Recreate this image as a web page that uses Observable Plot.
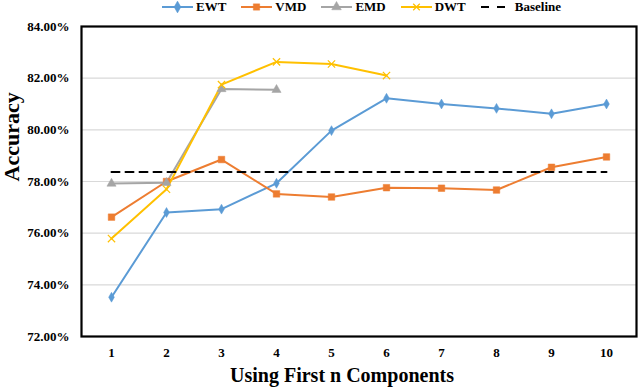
<!DOCTYPE html>
<html>
<head>
<meta charset="utf-8">
<script src="https://cdn.jsdelivr.net/npm/d3@7"></script>
<script src="https://cdn.jsdelivr.net/npm/@observablehq/plot@0.6"></script>
<style>
  html, body { margin: 0; padding: 0; background: #fff; }
  #wrap { position: relative; width: 640px; height: 388px; font-family: "Liberation Serif", "Times New Roman", serif; }
  #chart svg, #chart svg text { font-family: "Liberation Serif", "Times New Roman", serif !important; }
  #legend { position: absolute; top: -1px; left: 162px; display: flex; align-items: center; font-weight: bold; font-size: 13px; color: #000; z-index: 2; font-family: "Liberation Serif", "Times New Roman", serif; }
  .item { display: flex; align-items: center; margin-right: 15px; }
  .item svg { margin-right: 3px; }
</style>
</head>
<body>
<div id="wrap">
  <div id="legend"></div>
  <div id="chart"></div>
</div>
<script>
const components = [1, 2, 3, 4, 5, 6, 7, 8, 9, 10];
const seriesNames = ["EWT", "VMD", "EMD", "DWT"];
const seriesColors = ["#5B9BD5", "#ED7D31", "#A5A5A5", "#FFC000"];
const seriesSymbols = ["diamond", "square", "triangle", "times"];
const ewt = [73.52, 76.80, 76.93, 77.93, 79.97, 81.22, 81.00, 80.83, 80.62, 81.00];
const vmd = [76.62, 78.00, 78.85, 77.52, 77.40, 77.76, 77.74, 77.67, 78.55, 78.95];
const emd = [77.92, 77.95, 81.58, 81.55, null, null, null, null, null, null];
const dwt = [75.79, 77.70, 81.75, 82.63, 82.55, 82.10, null, null, null, null];
const baseline = 78.37;
const baselineLabel = "Baseline";
const yTicks = [72, 74, 76, 78, 80, 82, 84];
const xTitle = "Using First n Components";
const yTitle = "Accuracy";

const seriesValues = [ewt, vmd, emd, dwt];
const data = [];
seriesNames.forEach((name, s) => {
  seriesValues[s].forEach((v, i) => {
    if (v != null) data.push({n: components[i], acc: v, series: name});
  });
});
const baselineData = [
  {n: components[0], acc: baseline},
  {n: components[components.length - 1], acc: baseline}
];

const font = "Liberation Serif";
const symbolMarks = seriesNames.map((name, s) =>
  Plot.dot(data.filter(d => d.series === name), {
    x: "n", y: "acc",
    symbol: () => seriesSymbols[s],
    r: seriesSymbols[s] === "square" ? 3.7 : seriesSymbols[s] === "diamond" ? 3.0 : 3.4,
    fill: seriesSymbols[s] === "times" ? "none" : seriesColors[s],
    stroke: seriesColors[s],
    strokeWidth: seriesSymbols[s] === "times" ? 1.2 : 0.5
  })
);

const chart = Plot.plot({
  width: 640,
  height: 388,
  marginTop: 26,
  marginBottom: 52,
  marginLeft: 81,
  marginRight: 4,
  style: {fontFamily: "'Liberation Serif', serif", fontSize: "13px", fontWeight: "bold", color: "#000", background: "#fff"},
  x: {type: "point", domain: components, padding: 0.5},
  y: {domain: [72, 84]},
  symbol: {domain: seriesSymbols, range: seriesSymbols},
  marks: [
    Plot.gridY(yTicks.slice(1, -1), {stroke: "#D9D9D9", strokeOpacity: 1, strokeWidth: 1.2}),
    Plot.axisY(yTicks, {tickSize: 0, tickPadding: 12, tickFormat: d => d.toFixed(2) + "%", label: null, fontSize: 13, fontWeight: "bold", fontFamily: font}),
    Plot.axisX(components, {tickSize: 0, tickPadding: 11, label: null, fontSize: 13, fontWeight: "bold", fontFamily: font}),
    Plot.text([yTitle], {frameAnchor: "left", dx: -70, rotate: -90, fontSize: 22, fontWeight: "bold", fill: "#000", fontFamily: font}),
    Plot.text([xTitle], {frameAnchor: "bottom", dx: -17, dy: 45, fontSize: 20, fontWeight: "bold", fill: "#000", fontFamily: font}),
    ...seriesNames.map((name, s) =>
      Plot.line(data.filter(d => d.series === name), {x: "n", y: "acc", stroke: seriesColors[s], strokeWidth: 2})
    ),
    ...symbolMarks,
    Plot.line(baselineData, {x: "n", y: "acc", stroke: "#000", strokeWidth: 2, strokeDasharray: "8,6"}),
    Plot.frame({stroke: "#000", strokeWidth: 2.2})
  ]
});
document.getElementById("chart").appendChild(chart);

// Legend
const legend = document.getElementById("legend");
const sym = d3.scaleOrdinal().domain(seriesSymbols).range([d3.symbolDiamond, d3.symbolSquare, d3.symbolTriangle, d3.symbolTimes]);
seriesNames.forEach((name, s) => {
  const item = document.createElement("div");
  item.className = "item";
  const svg = d3.create("svg").attr("width", 31).attr("height", 12);
  svg.append("line").attr("x1", 0).attr("x2", 31).attr("y1", 6).attr("y2", 6).attr("stroke", seriesColors[s]).attr("stroke-width", 2);
  const isTimes = seriesSymbols[s] === "times";
  svg.append("path").attr("transform", "translate(15.5,6)")
    .attr("d", d3.symbol(sym(seriesSymbols[s]), isTimes ? 30 : 40)())
    .attr("fill", isTimes ? "none" : seriesColors[s])
    .attr("stroke", seriesColors[s]).attr("stroke-width", isTimes ? 1.2 : 0.5);
  item.appendChild(svg.node());
  const t = document.createElement("span");
  t.textContent = name;
  item.appendChild(t);
  legend.appendChild(item);
});
{
  const item = document.createElement("div");
  item.className = "item";
  const svg = d3.create("svg").attr("width", 31).attr("height", 12);
  svg.append("line").attr("x1", 0).attr("x2", 28).attr("y1", 6).attr("y2", 6).attr("stroke", "#000").attr("stroke-width", 2).attr("stroke-dasharray", "8,8");
  item.appendChild(svg.node());
  const t = document.createElement("span");
  t.textContent = baselineLabel;
  item.appendChild(t);
  legend.appendChild(item);
}
</script>
</body>
</html>
